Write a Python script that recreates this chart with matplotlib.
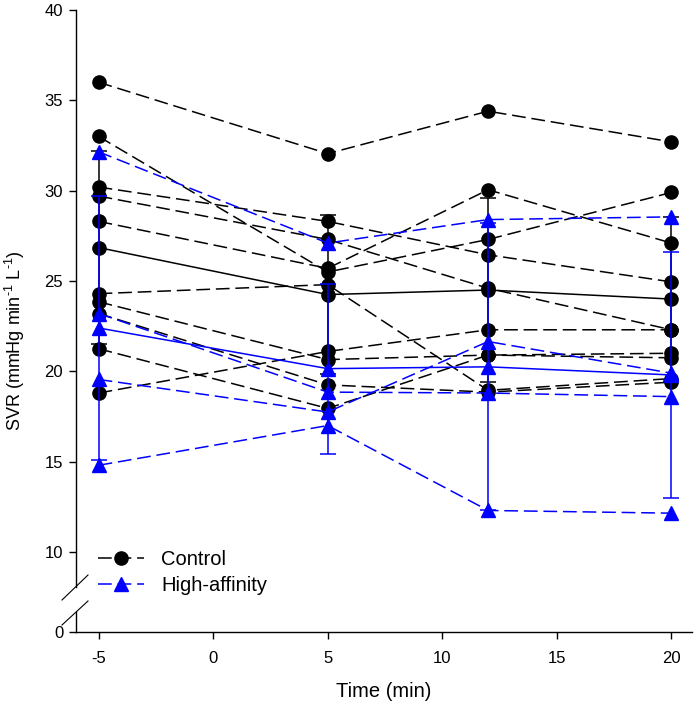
import numpy as np
import matplotlib
matplotlib.use("Agg")
import matplotlib.pyplot as plt
from matplotlib.lines import Line2D

plt.rcParams['font.family'] = ['Liberation Sans', 'DejaVu Sans']
plt.rcParams['axes.unicode_minus'] = False
plt.rcParams['mathtext.fontset'] = 'custom'
plt.rcParams['mathtext.rm'] = 'Liberation Sans'
plt.rcParams['mathtext.it'] = 'Liberation Sans:italic'
plt.rcParams['mathtext.bf'] = 'Liberation Sans:bold'

times = [-5, 5, 12, 20]

# Control individuals
ctrl_A = [36.0, 32.05, 34.4, 32.7]
ctrl_B = [33.0, 25.5, 27.3, 29.9]
ctrl_C = [30.2, 28.3, 26.45, 24.95]
ctrl_D = [29.7, 27.3, 24.6, 22.3]
ctrl_E = [28.3, 25.7, 30.05, 27.1]
ctrl_F = [24.3, 24.8, 18.95, 19.6]
ctrl_G = [23.85, 20.65, 20.9, 20.75]
ctrl_H = [23.2, 19.25, 18.85, 19.4]
ctrl_I = [21.25, 17.95, 20.9, 21.0]
ctrl_J = [18.8, 21.1, 22.3, 22.3]
control = [ctrl_A, ctrl_B, ctrl_C, ctrl_D, ctrl_E, ctrl_F, ctrl_G, ctrl_H, ctrl_I, ctrl_J]

# High-affinity individuals
ha_1 = [32.15, 27.1, 28.4, 28.55]
ha_2 = [23.2, 18.85, 18.8, 18.6]
ha_3 = [19.55, 17.75, 21.65, 19.9]
ha_4 = [14.8, 17.0, 12.3, 12.15]
high_aff = [ha_1, ha_2, ha_3, ha_4]

ctrl_mean = [26.85, 24.25, 24.5, 24.0]
ctrl_sd = [5.35, 4.4, 5.1, 4.55]
ha_mean = [22.4, 20.15, 20.25, 19.8]
ha_sd = [7.3, 4.7, 7.95, 6.8]

xticks = [-5, 0, 5, 10, 15, 20]
yticks = [0, 10, 15, 20, 25, 30, 35, 40]

K = 8.0 / 18.07
def fwd(y):
    y = np.asarray(y, dtype=float)
    return np.where(y >= 10, y, 10 - (10 - y) * K)
def inv(f):
    f = np.asarray(f, dtype=float)
    return np.where(f >= 10, f, 10 - (10 - f) / K)

fig = plt.figure(figsize=(7.0, 7.11), dpi=100)
ax = fig.add_axes([75.7/700, 1 - 632/711, (692-75.7)/700, (632-10)/711])
ax.set_yscale('function', functions=(fwd, inv))

BLUE = '#0000FF'
dash = (0, (9, 3.8))
ms = 9.5

for ind in control:
    ax.plot(times, ind, color='black', ls=dash, lw=1.1, marker='o', ms=ms,
            mfc='black', mec='black', zorder=3)
ax.errorbar(times, ctrl_mean, yerr=ctrl_sd, color='black', lw=1.1, marker='o',
            ms=ms, mfc='black', mec='black', capsize=5.5, capthick=1.1,
            elinewidth=1.1, zorder=4)

for ind in high_aff:
    ax.plot(times, ind, color=BLUE, ls=dash, lw=1.1, marker='^', ms=ms,
            mfc=BLUE, mec=BLUE, zorder=5)
ax.errorbar(times, ha_mean, yerr=ha_sd, color=BLUE, lw=1.1, marker='^',
            ms=ms, mfc=BLUE, mec=BLUE, capsize=5.5, capthick=1.1,
            elinewidth=1.1, zorder=6)

ax.set_xlim(-6.0, 20.9)
ax.set_ylim(0, 40)
ax.set_xticks(xticks)
ax.set_xticklabels([str(t) for t in xticks])
ax.set_yticks(yticks)
ax.set_yticklabels([str(t) for t in yticks])
ax.minorticks_off()
ax.tick_params(axis='both', direction='out', length=5, width=1, labelsize=12,
               colors='black')
ax.tick_params(axis='x', pad=9)
ax.tick_params(axis='y', pad=4)

for s in ['top', 'right', 'left']:
    ax.spines[s].set_visible(False)
ax.spines['bottom'].set_linewidth(1)

# left spine with break
tr = ax.transAxes
y_up = (632 - 587) / 622
y_lo = (632 - 612.4) / 622
ax.plot([0, 0], [y_up, 1], transform=tr, color='black', lw=1, clip_on=False, zorder=10)
ax.plot([0, 0], [0, y_lo], transform=tr, color='black', lw=1, clip_on=False, zorder=10)
x0 = (62 - 75.7) / 616.3
x1 = (88 - 75.7) / 616.3
ax.plot([x0, x1], [(632-600)/622, (632-575)/622], transform=tr, color='black',
        lw=0.8, clip_on=False, zorder=10)
ax.plot([x0, x1], [(632-625)/622, (632-601)/622], transform=tr, color='black',
        lw=0.8, clip_on=False, zorder=10)

ax.set_xlabel('Time (min)', fontsize=14.5, labelpad=11)
ax.set_ylabel('SVR (mmHg min$^{\\mathrm{\u20101}}$ L$^{\\mathrm{\u20101}}$)', fontsize=13)
ax.yaxis.set_label_coords((27 - 75.7) / 616.3, (632 - 341) / 622)

handles = [
    Line2D([], [], color='black', ls=dash, lw=1.1, marker='o', ms=ms, mfc='black', mec='black'),
    Line2D([], [], color=BLUE, ls=dash, lw=1.1, marker='^', ms=ms, mfc=BLUE, mec=BLUE),
]
ax.legend(handles, ['Control', 'High-affinity'], loc='upper left',
          bbox_to_anchor=((98 - 75.7) / 616.3, (632 - 550) / 622),
          frameon=False, fontsize=14.5, handlelength=2.3, handletextpad=0.85,
          labelspacing=0.35, borderpad=0, borderaxespad=0)

fig.savefig('out.png', dpi=100)
